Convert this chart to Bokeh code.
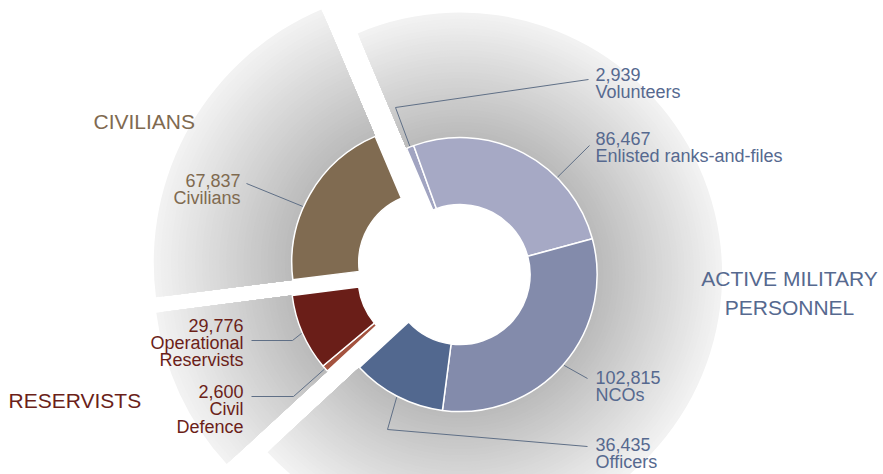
import math
from bokeh.plotting import figure
from bokeh.models import Range1d, ColumnDataSource
from bokeh.core.properties import value
from bokeh.embed import file_html
from bokeh.resources import INLINE

# ---------------- data ----------------
group_names = ["ACTIVE MILITARY\nPERSONNEL", "RESERVISTS", "CIVILIANS"]
active_labels = ["Volunteers", "Enlisted ranks-and-files", "NCOs", "Officers"]
active_values = [2939, 86467, 102815, 36435]
reservist_labels = ["Civil\nDefence", "Operational\nReservists"]
reservist_values = [2600, 29776]
civilian_labels = ["Civilians"]
civilian_values = [67837]

# ---------------- styles / layout ----------------
FONT = "Liberation Sans"
active_colors = ["#a1a4c1", "#a6a9c5", "#838bab", "#52688f"]
reservist_colors = ["#a4533f", "#6a1e18"]
civilian_colors = ["#806b51"]
group_text_colors = ["#56698f", "#6b1f19", "#7f6a50"]
LEADER = "#5f6f86"

W, H = 883, 474
OX, OY = 443.0, 270.5       # common centre (screen px)
EXPLODE = 17.0
R_IN, R_OUT = 70.0, 137.0
R_BG = [262.0, 274.0, 275.0]  # background fan radius per group
START = 337.0               # bearing (deg, clockwise from north) of first slice

groups = [
    (active_labels, active_values, active_colors),
    (reservist_labels, reservist_values, reservist_colors),
    (civilian_labels, civilian_values, civilian_colors),
]
total = float(sum(sum(g[1]) for g in groups))

# label layout (screen px): anchor bearing override, elbow, line end, text pos, align
label_layout = {
    "Volunteers": dict(elbow=(395, 107), end=(588, 79), text=(595, 81), align="left"),
    "Enlisted ranks-and-files": dict(bearing=45, end=(589, 145), text=(595, 145), align="left"),
    "NCOs": dict(end=(587, 378), text=(595, 384), align="left"),
    "Officers": dict(elbow=(387, 429), end=(587, 446), text=(595, 451), align="left"),
    "Civil\nDefence": dict(elbow=(293, 396), end=(251, 396), text=(243, 398.5), align="right"),
    "Operational\nReservists": dict(elbow=(292, 340), end=(251, 340), text=(243, 332), align="right"),
    "Civilians": dict(bearing=294, end=(246, 183), text=(240, 187.5), align="right"),
}
LINE_H = 17.6
LABEL_SIZE = "18px"
LABEL_DY = -7.5             # renderer baseline correction
TITLE_SIZE = "21px"
TITLE_DY = -9.0
title_layout = [
    dict(text=(789, 286.5), align="center"),
    dict(text=(8, 408.5), align="left"),
    dict(text=(93, 129.5), align="left"),
]
TITLE_LINE_H = 29.5


def pt(cx, cy, bearing, r):
    b = math.radians(bearing)
    return cx + r * math.sin(b), cy - r * math.cos(b)


p = figure(width=W, height=H, output_backend="svg", toolbar_location=None,
           x_range=Range1d(0, W), y_range=Range1d(-H, 0),
           min_border=0, x_axis_location=None, y_axis_location=None,
           background_fill_color="white", border_fill_color="white")
p.outline_line_color = None
p.grid.visible = False

seg = dict(x=[], y=[], s=[], e=[], c=[])
bg = dict(x=[], y=[], s=[], e=[], ro=[], c=[])
lines_xs, lines_ys = [], []
tx, ty, tt, ta, tc = [], [], [], [], []

b = START
N_STEPS = 40
for gi, (labels, values, colors) in enumerate(groups):
    gspan = sum(values) / total * 360.0
    gmid = b + gspan / 2.0
    cx, cy = pt(OX, OY, gmid, EXPLODE)
    # gradient background (largest/lightest first)
    for k in range(N_STEPS, 0, -1):
        t = k / N_STEPS
        r = R_OUT + (R_BG[gi] - R_OUT) * t
        g = int(round(186 + 57 * (t - 0.5 / N_STEPS)))
        bg["x"].append(cx); bg["y"].append(-cy)
        bg["s"].append(math.radians(90 - (b + gspan)))
        bg["e"].append(math.radians(90 - b))
        bg["ro"].append(r)
        bg["c"].append("#%02x%02x%02x" % (g, g, g))
    sb = b
    for lab, v, col in zip(labels, values, colors):
        span = v / total * 360.0
        seg["x"].append(cx); seg["y"].append(-cy)
        seg["s"].append(math.radians(90 - (sb + span)))
        seg["e"].append(math.radians(90 - sb))
        seg["c"].append(col)
        lay = label_layout[lab]
        ab = lay.get("bearing", sb + span / 2.0)
        ax_, ay_ = pt(cx, cy, ab, R_OUT + 1)
        pts = [(ax_, ay_)]
        if "elbow" in lay:
            pts.append(lay["elbow"])
        pts.append(lay["end"])
        lines_xs.append([q[0] for q in pts])
        lines_ys.append([-q[1] for q in pts])
        text_lines = ["{:,}".format(v)] + lab.split("\n")
        x0, y0 = lay["text"]
        for li, s in enumerate(text_lines):
            tx.append(x0); ty.append(-(y0 + LABEL_DY + li * LINE_H)); tt.append(s)
            ta.append(lay["align"]); tc.append(group_text_colors[gi])
        sb += span
    b += gspan

p.annular_wedge(x="x", y="y", inner_radius=R_OUT - 3, outer_radius="ro",
                start_angle="s", end_angle="e", fill_color="c", line_color=None,
                source=ColumnDataSource(bg))
p.annular_wedge(x="x", y="y", inner_radius=R_IN, outer_radius=R_OUT,
                start_angle="s", end_angle="e", fill_color="c", line_color="white",
                line_width=1.5, source=ColumnDataSource(seg))
p.multi_line(xs=lines_xs, ys=lines_ys, line_color=LEADER, line_width=1)

p.text(x="x", y="y", text="t", text_align="a", text_color="c",
       text_baseline="alphabetic", text_font=value(FONT), text_font_size=LABEL_SIZE,
       source=ColumnDataSource(dict(x=tx, y=ty, t=tt, a=ta, c=tc)))

gx, gy, gt, ga, gc = [], [], [], [], []
for gi, name in enumerate(group_names):
    lay = title_layout[gi]
    x0, y0 = lay["text"]
    for li, s in enumerate(name.split("\n")):
        gx.append(x0); gy.append(-(y0 + TITLE_DY + li * TITLE_LINE_H)); gt.append(s)
        ga.append(lay["align"]); gc.append(group_text_colors[gi])
p.text(x="x", y="y", text="t", text_align="a", text_color="c",
       text_baseline="alphabetic", text_font=value(FONT), text_font_size=TITLE_SIZE,
       source=ColumnDataSource(dict(x=gx, y=gy, t=gt, a=ga, c=gc)))

open("out.html", "w").write(file_html(p, INLINE))
